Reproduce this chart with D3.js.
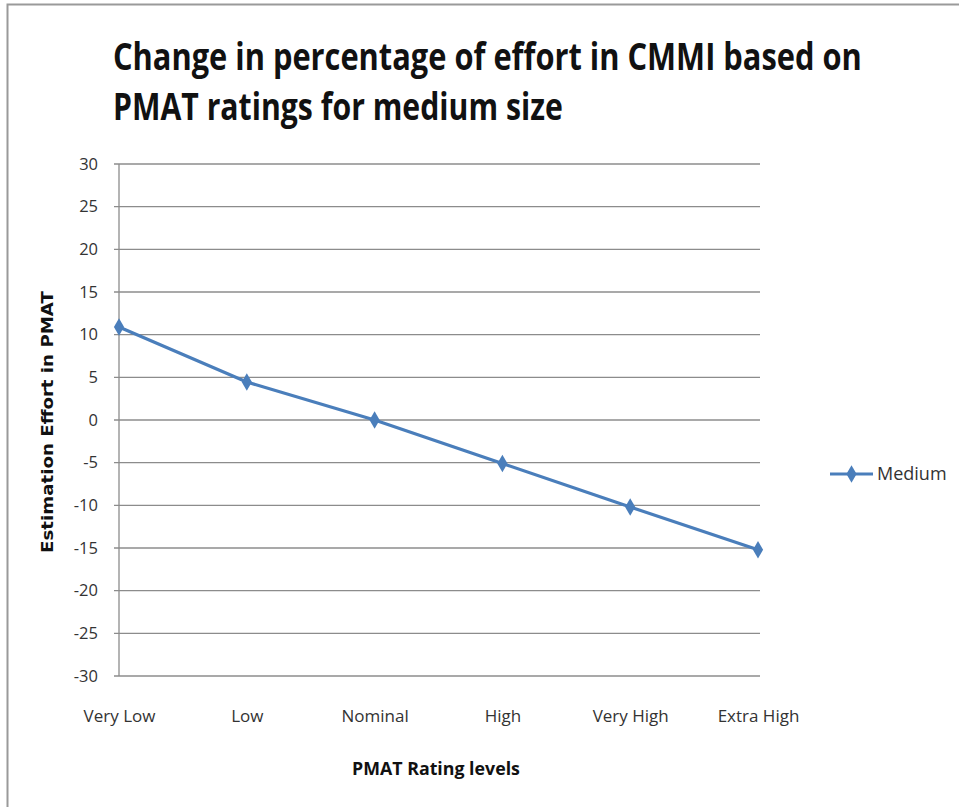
<!DOCTYPE html>
<html>
<head>
<meta charset="utf-8">
<script src="https://cdn.jsdelivr.net/npm/d3@7"></script>
<style>
  html, body { margin: 0; padding: 0; background: #fff; }
  svg { display: block; }
</style>
</head>
<body>
<svg id="chart" width="959" height="808"></svg>
<script>
// PMAT rating levels and the matching change in estimated effort (%)
const categories = ["Very Low", "Low", "Nominal", "High", "Very High", "Extra High"];
const medium = [10.9, 4.45, 0, -5.1, -10.2, -15.2];
const yTicks = [30, 25, 20, 15, 10, 5, 0, -5, -10, -15, -20, -25, -30];
const seriesName = "Medium";
const titleLines = ["Change in percentage of effort in CMMI based on", "PMAT ratings for medium size"];
const titleWidths = [749, 450];

const svg = d3.select("#chart");
const blue = "#4a7ebb";
const font = "'Open Sans', sans-serif";
const fmt = d => String(d); // plain hyphen-minus, as in the spreadsheet

// scale a text horizontally to a given width
function fitWidth(sel, width) {
  sel.each(function () {
    const natural = this.getComputedTextLength();
    const s = width / natural;
    const t = d3.select(this);
    t.attr("transform", (t.attr("transform") || "") + ` scale(${s},1)`);
  });
}

// outer frame
svg.append("path")
  .attr("d", "M959,4.5 H7.5 V807")
  .attr("fill", "none").attr("stroke", "#9a9a9a").attr("stroke-width", 2);

const plot = { left: 119, right: 758, top: 164, bottom: 676 };

const x = d3.scalePoint().domain(categories).range([plot.left, plot.right]);
const y = d3.scaleLinear().domain([-30, 30]).range([plot.bottom, plot.top]);

// horizontal gridlines with tick labels
const gy = svg.append("g").attr("transform", `translate(${plot.left},0)`);
gy.selectAll("line").data(yTicks).join("line")
  .attr("x1", -5).attr("x2", plot.right + 2 - plot.left)
  .attr("y1", d => y(d)).attr("y2", d => y(d))
  .attr("stroke", "#8c8c8c").attr("stroke-width", 1.3);
gy.selectAll("text").data(yTicks).join("text")
  .attr("x", -21).attr("y", d => y(d)).attr("dy", "0.35em")
  .attr("text-anchor", "end")
  .attr("font-family", font).attr("font-size", 16.5).attr("fill", "#333")
  .text(fmt);

// vertical axis line
svg.append("line")
  .attr("x1", plot.left).attr("x2", plot.left)
  .attr("y1", plot.top).attr("y2", plot.bottom)
  .attr("stroke", "#8c8c8c").attr("stroke-width", 1.3);

// category labels
const xAxis = d3.axisBottom(x).tickSize(0).tickPadding(0);
const gx = svg.append("g").attr("transform", `translate(0,${plot.bottom})`).call(xAxis);
gx.select(".domain").remove();
gx.selectAll("text")
  .attr("y", 46).attr("dy", null)
  .attr("font-family", font).attr("font-size", 17).attr("fill", "#333");

// series line and diamond markers
const line = d3.line().x((d, i) => x(categories[i])).y(d => y(d));
svg.append("path").datum(medium)
  .attr("d", line).attr("fill", "none")
  .attr("stroke", blue).attr("stroke-width", 3.2).attr("stroke-linejoin", "round");

const diamond = d3.symbol().type(d3.symbolDiamond).size(90);
svg.selectAll("path.marker").data(medium).join("path")
  .attr("class", "marker")
  .attr("d", diamond)
  .attr("transform", (d, i) => `translate(${x(categories[i])},${y(d)})`)
  .attr("fill", blue);

// title, condensed to the width of the heading block
svg.append("g").selectAll("text").data(titleLines).join("text")
  .attr("transform", (d, i) => `translate(113,${70 + i * 50})`)
  .attr("font-family", font).attr("font-weight", "bold")
  .attr("font-size", 37).attr("fill", "#111")
  .text(d => d)
  .each(function (d, i) { fitWidth(d3.select(this), titleWidths[i]); });

// axis titles
svg.append("text")
  .attr("transform", `translate(53,${(plot.top + plot.bottom) / 2 + 2}) rotate(-90)`)
  .attr("text-anchor", "middle")
  .attr("font-family", "'DejaVu Sans', sans-serif").attr("font-weight", "bold")
  .attr("font-size", 15.5).attr("fill", "#111")
  .text("Estimation Effort in PMAT")
  .call(fitWidth, 262);

svg.append("text")
  .attr("transform", "translate(436,775)")
  .attr("text-anchor", "middle")
  .attr("font-family", font).attr("font-weight", "bold")
  .attr("font-size", 18).attr("fill", "#111")
  .text("PMAT Rating levels")
  .call(fitWidth, 168);

// legend
const lg = svg.append("g").attr("transform", "translate(830,474)");
lg.append("line").attr("x1", 0).attr("x2", 43).attr("stroke", blue).attr("stroke-width", 3.2);
lg.append("path").attr("d", diamond).attr("transform", "translate(21.5,0)").attr("fill", blue);
lg.append("text").attr("x", 47).attr("dy", "0.35em")
  .attr("font-family", font).attr("font-size", 18).attr("fill", "#333")
  .text(seriesName);
</script>
</body>
</html>
